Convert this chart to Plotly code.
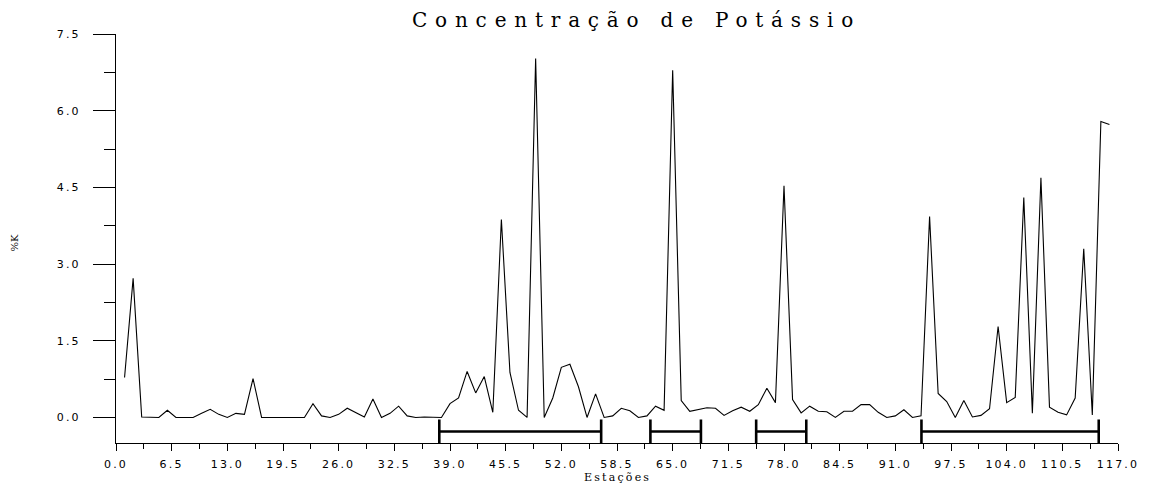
import plotly.graph_objects as go

# Estações de amostragem e concentração de potássio (%K)
estacoes = list(range(1, 117))
potassio = [
    0.78, 2.72, 0.01, 0.00, 0.00, 0.14, 0.00, 0.00, 0.00, 0.08,
    0.16, 0.06, 0.00, 0.08, 0.06, 0.76, 0.00, 0.00, 0.00, 0.01,
    0.00, 0.00, 0.27, 0.03, 0.00, 0.06, 0.18, 0.10, 0.01, 0.36,
    0.00, 0.08, 0.22, 0.03, 0.00, 0.01, 0.00, 0.00, 0.27, 0.38,
    0.90, 0.48, 0.80, 0.10, 3.87, 0.88, 0.14, 0.00, 7.02, 0.00,
    0.38, 0.98, 1.04, 0.60, 0.00, 0.46, 0.00, 0.03, 0.18, 0.13,
    0.00, 0.03, 0.22, 0.14, 6.79, 0.33, 0.12, 0.16, 0.19, 0.18,
    0.04, 0.13, 0.20, 0.12, 0.25, 0.57, 0.29, 4.53, 0.35, 0.09,
    0.22, 0.12, 0.11, 0.00, 0.12, 0.12, 0.25, 0.25, 0.10, 0.00,
    0.03, 0.15, 0.00, 0.03, 3.93, 0.47, 0.31, 0.00, 0.33, 0.01,
    0.04, 0.17, 1.78, 0.29, 0.39, 4.30, 0.08, 4.69, 0.20, 0.10,
    0.05, 0.38, 3.30, 0.05, 5.79, 5.73,
]

# Trechos marcados abaixo da curva
trecho_inicio = [37.75, 62.4, 74.75, 94.05]
trecho_fim = [56.65, 68.3, 80.6, 114.75]
trecho_nivel = -0.275
trecho_topo = -0.04
trecho_base = -0.5

x_ticks = [0.0, 6.5, 13.0, 19.5, 26.0, 32.5, 39.0, 45.5, 52.0, 58.5,
           65.0, 71.5, 78.0, 84.5, 91.0, 97.5, 104.0, 110.5, 117.0]
x_tick_labels = ["0.0", "6.5", "13.0", "19.5", "26.0", "32.5", "39.0",
                 "45.5", "52.0", "58.5", "65.0", "71.5", "78.0", "84.5",
                 "91.0", "97.5", "104.0", "110.5", "117.0"]
y_ticks = [0.0, 1.5, 3.0, 4.5, 6.0, 7.5]
y_tick_labels = ["0.0", "1.5", "3.0", "4.5", "6.0", "7.5"]


def espaco(txt, ls):
    return f"<span style='letter-spacing:{ls}px'>{txt}</span>"


fig = go.Figure()

fig.add_trace(go.Scatter(
    x=estacoes, y=potassio, mode="lines",
    line=dict(color="black", width=1.1),
    hoverinfo="x+y", showlegend=False,
))

# barras horizontais com traços verticais nas extremidades
bx, by = [], []
for a, b in zip(trecho_inicio, trecho_fim):
    bx += [a, b, None, a, a, None, b, b, None]
    by += [trecho_nivel, trecho_nivel, None,
           trecho_topo, trecho_base, None,
           trecho_topo, trecho_base, None]
fig.add_trace(go.Scatter(
    x=bx, y=by, mode="lines",
    line=dict(color="black", width=2.6),
    hoverinfo="skip", showlegend=False,
))

tick_font = dict(family="DejaVu Sans", size=11, color="black")

fig.update_layout(
    width=1150, height=484,
    margin=dict(l=116, r=32, t=34, b=41, pad=0),
    paper_bgcolor="white", plot_bgcolor="white",
    xaxis=dict(
        range=[0, 117], showgrid=False, zeroline=False,
        showline=True, linecolor="black", linewidth=1,
        ticks="outside", ticklen=7, tickwidth=1, tickcolor="black",
        tickmode="array", tickvals=x_ticks,
        ticktext=[espaco(t, 2.2) for t in x_tick_labels],
        tickfont=tick_font, ticklabelstandoff=4,
        minor=dict(dtick=3.25, tick0=0, ticks="outside", ticklen=5,
                   tickwidth=1, tickcolor="black", showgrid=False),
    ),
    yaxis=dict(
        range=[-0.5, 7.5], showgrid=False, zeroline=False,
        showline=True, linecolor="black", linewidth=1,
        ticks="outside", ticklen=22, tickwidth=1, tickcolor="black",
        tickmode="array", tickvals=y_ticks,
        ticktext=[espaco(t, 2.2) for t in y_tick_labels],
        tickfont=tick_font, ticklabelstandoff=10,
        minor=dict(dtick=0.75, tick0=0, ticks="outside", ticklen=11,
                   tickwidth=1, tickcolor="black", showgrid=False),
    ),
    annotations=[
        dict(text=espaco("Concentração de Potássio", 7.8),
             xref="paper", yref="paper",
             x=(636 - 116) / (1150 - 116 - 32), y=1 + 14 / (484 - 34 - 41),
             xanchor="center", yanchor="middle", showarrow=False,
             font=dict(family="DejaVu Serif", size=20, color="black")),
        dict(text=espaco("Estações", 2.2),
             xref="paper", yref="paper",
             x=0.5, y=-34 / (484 - 34 - 41),
             xanchor="center", yanchor="middle", showarrow=False,
             font=dict(family="DejaVu Serif", size=11, color="black")),
        dict(text="%K", textangle=-90,
             xref="paper", yref="paper",
             x=-101 / (1150 - 116 - 32), y=0.49,
             xanchor="center", yanchor="middle", showarrow=False,
             font=dict(family="DejaVu Serif", size=10, color="black")),
    ],
)

fig.write_html("out.html")
